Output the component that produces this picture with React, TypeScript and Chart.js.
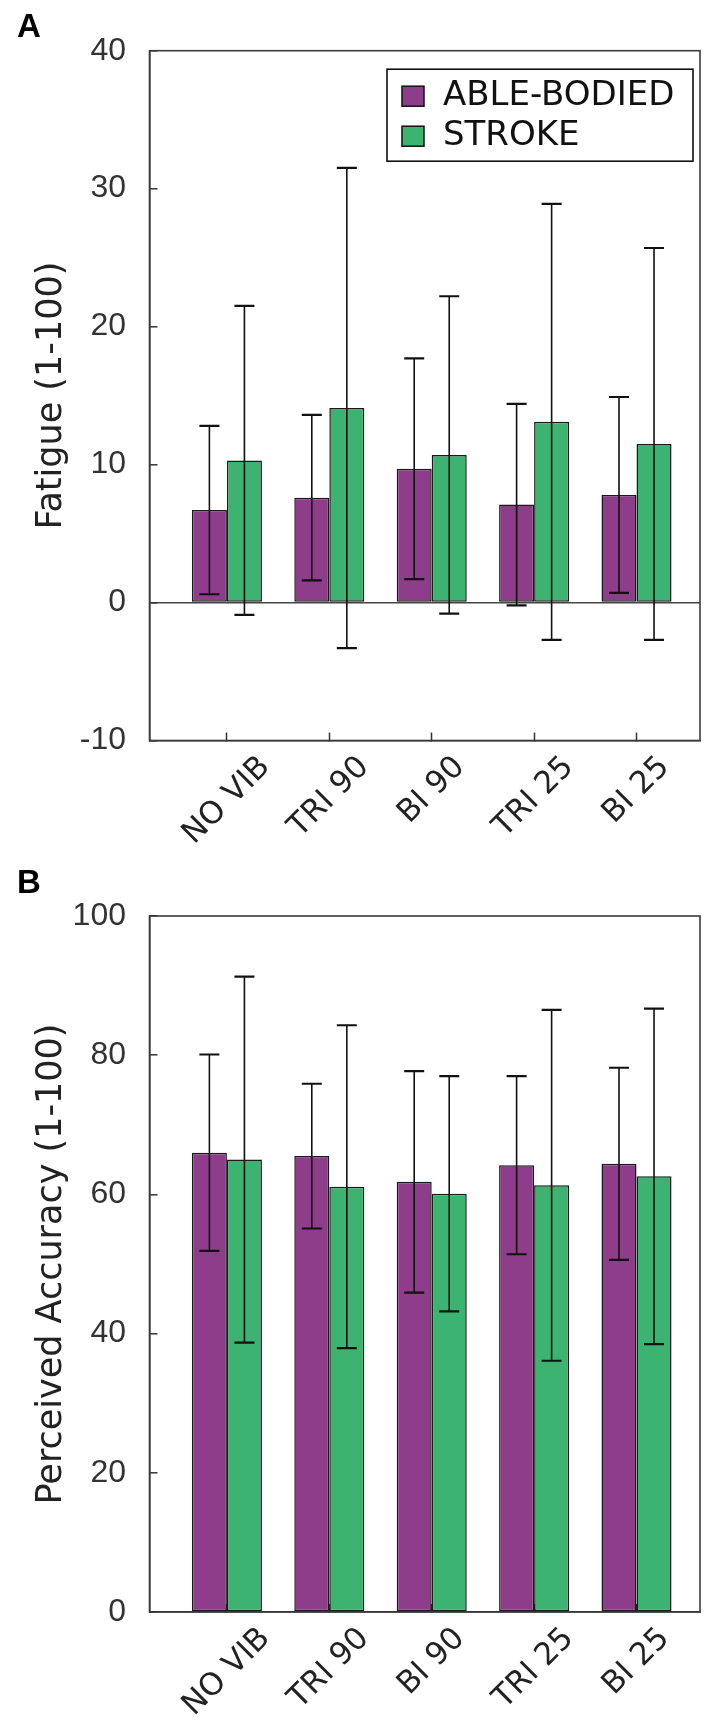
import React, { useEffect, useRef } from 'react';
import { Chart, registerables } from 'chart.js';

Chart.register(...registerables);

// ---------- data ----------
const categories = ['NO VIB', 'TRI 90', 'BI 90', 'TRI 25', 'BI 25'];
const seriesNames = ['ABLE-BODIED', 'STROKE'];
const seriesColors = ['#8E3D8B', '#3CB371'];

const fatigueAbleMean = [6.7, 7.6, 9.7, 7.1, 7.8];
const fatigueAbleSD = [6.1, 6.0, 8.0, 7.3, 7.1];
const fatigueStrokeMean = [10.3, 14.1, 10.7, 13.1, 11.5];
const fatigueStrokeSD = [11.2, 17.4, 11.5, 15.8, 14.2];
const fatigueTicks = [-10, 0, 10, 20, 30, 40];

const accuracyAbleMean = [66.0, 65.5, 61.8, 64.2, 64.4];
const accuracyAbleSD = [14.1, 10.4, 15.9, 12.8, 13.8];
const accuracyStrokeMean = [65.0, 61.1, 60.1, 61.3, 62.6];
const accuracyStrokeSD = [26.3, 23.2, 16.9, 25.2, 24.1];
const accuracyTicks = [0, 20, 40, 60, 80, 100];

const W = 709;
const PLOT_LEFT = 149.5;
const PLOT_RIGHT = 700;
const X_MIN = -0.756;
const X_MAX = 4.62;

type PanelProps = {
  top: number;
  height: number;
  plotTop: number;
  plotBottom: number;
  letter: string;
  letterBaseline: number;
  title: string;
  ticks: number[];
  means: number[][];
  sds: number[][];
  legend: boolean;
  zeroLine: boolean;
};

function Panel(props: PanelProps) {
  const ref = useRef<HTMLCanvasElement | null>(null);

  useEffect(() => {
    const canvas = ref.current;
    if (!canvas) return;
    const { height, plotTop, plotBottom, ticks, means, sds, legend, zeroLine, title, letter, letterBaseline } = props;

    const decor = {
      id: 'decor',
      afterDraw(chart: any) {
        const ctx = chart.ctx as CanvasRenderingContext2D;
        const area = chart.chartArea;
        const ys = chart.scales.y;
        const xs = chart.scales.x;
        ctx.save();

        // error bars
        ctx.strokeStyle = '#111';
        chart.data.datasets.forEach((_ds: any, s: number) => {
          const meta = chart.getDatasetMeta(s);
          meta.data.forEach((bar: any, i: number) => {
            const m = means[s][i];
            const sd = sds[s][i];
            const yT = ys.getPixelForValue(m + sd);
            const yB = ys.getPixelForValue(m - sd);
            ctx.lineWidth = 1.6;
            ctx.beginPath();
            ctx.moveTo(bar.x, yT);
            ctx.lineTo(bar.x, yB);
            ctx.stroke();
            ctx.lineWidth = 2.2;
            ctx.beginPath();
            ctx.moveTo(bar.x - 10, yT);
            ctx.lineTo(bar.x + 10, yT);
            ctx.moveTo(bar.x - 10, yB);
            ctx.lineTo(bar.x + 10, yB);
            ctx.stroke();
          });
        });

        // frame
        ctx.strokeStyle = '#3a3a3a';
        ctx.lineWidth = 1.6;
        ctx.strokeRect(area.left, area.top, area.right - area.left, area.bottom - area.top);

        // legend
        if (legend) {
          const bx = area.right - 313;
          const by = area.top + 18.5;
          ctx.fillStyle = '#fff';
          ctx.fillRect(bx, by, 306, 92);
          ctx.strokeStyle = '#111';
          ctx.lineWidth = 1.6;
          ctx.strokeRect(bx, by, 306, 92);
          ctx.font = '34px "DejaVu Sans"';
          ctx.textAlign = 'left';
          ctx.textBaseline = 'alphabetic';
          seriesNames.forEach((name, s) => {
            const sy = by + 17 + s * 40;
            ctx.fillStyle = seriesColors[s];
            ctx.fillRect(bx + 15, sy, 22, 20);
            ctx.strokeStyle = '#111';
            ctx.lineWidth = 1.5;
            ctx.strokeRect(bx + 15, sy, 22, 20);
            ctx.fillStyle = '#111';
            ctx.fillText(name, bx + 56, by + 36 + s * 40);
          });
        }

        // y title
        ctx.fillStyle = '#222';
        ctx.font = '35px "DejaVu Sans"';
        ctx.textAlign = 'center';
        ctx.textBaseline = 'alphabetic';
        ctx.save();
        ctx.translate(61, (area.top + area.bottom) / 2);
        ctx.rotate(-Math.PI / 2);
        ctx.fillText(title, 0, 0);
        ctx.restore();

        // x labels (rotated 45deg, centred on tick)
        ctx.font = '31px "DejaVu Sans"';
        ctx.fillStyle = '#222';
        ctx.textAlign = 'center';
        ctx.textBaseline = 'middle';
        categories.forEach((lab, i) => {
          const x = xs.getPixelForValue(i);
          const w = ctx.measureText(lab).width;
          const h = 22;
          const cy = area.bottom + 14 + (w + h) * 0.3536;
          ctx.save();
          ctx.translate(x, cy);
          ctx.rotate(-Math.PI / 4);
          ctx.fillText(lab, 0, 0);
          ctx.restore();
        });

        // panel letter
        ctx.font = 'bold 33px "Liberation Sans"';
        ctx.fillStyle = '#000';
        ctx.textAlign = 'left';
        ctx.textBaseline = 'alphabetic';
        ctx.fillText(letter, 17, letterBaseline);

        ctx.restore();
      },
    };

    const chart = new Chart(canvas, {
      type: 'bar',
      data: {
        datasets: seriesNames.map((name, s) => ({
          label: name,
          data: means[s].map((v, i) => ({ x: i, y: v })),
          backgroundColor: seriesColors[s],
          borderColor: '#1a1a1a',
          borderWidth: 1.5,
          borderSkipped: false,
          categoryPercentage: 0.684,
          barPercentage: 1.0,
        })),
      },
      options: {
        responsive: false,
        animation: false,
        events: [],
        layout: { padding: { top: plotTop, right: W - PLOT_RIGHT, left: 0, bottom: 0 } },
        plugins: {
          legend: { display: false },
          tooltip: { enabled: false },
          title: { display: false },
        },
        scales: {
          x: {
            type: 'linear',
            min: X_MIN,
            max: X_MAX,
            offset: false,
            afterBuildTicks: (axis: any) => {
              axis.ticks = categories.map((_c, i) => ({ value: i }));
            },
            afterFit: (s: any) => {
              s.height = height - plotBottom;
            },
            ticks: { display: false },
            grid: {
              drawOnChartArea: false,
              offset: false,
              tickLength: -8,
              tickColor: '#333',
              tickWidth: 1.5,
              color: '#333',
            },
            border: { display: true, color: '#3a3a3a', width: 1.6 },
          },
          y: {
            type: 'linear',
            min: ticks[0],
            max: ticks[ticks.length - 1],
            afterBuildTicks: (axis: any) => {
              axis.ticks = ticks.map((v) => ({ value: v }));
            },
            afterFit: (s: any) => {
              s.width = PLOT_LEFT;
            },
            ticks: {
              font: { family: '"Liberation Sans", Arial, sans-serif', size: 32 },
              color: '#333',
              padding: 31.5,
            },
            grid: {
              drawOnChartArea: true,
              color: (c: any) =>
                zeroLine && c.tick && c.tick.value === 0 ? '#444' : 'rgba(0,0,0,0)',
              lineWidth: 1.6,
              tickColor: '#333',
              tickLength: -8,
              tickWidth: 1.5,
            },
            border: { display: true, color: '#3a3a3a', width: 1.6 },
          },
        },
      } as any,
      plugins: [decor],
    });

    return () => chart.destroy();
  }, []);

  return (
    <canvas
      ref={ref}
      width={W}
      height={props.height}
      style={{ position: 'absolute', left: 0, top: props.top, display: 'block', width: W, height: props.height }}
    />
  );
}

export default function App() {
  useEffect(() => {
    document.body.style.margin = '0';
  }, []);
  return (
    <div style={{ position: 'relative', width: W, height: 1733, overflow: 'hidden', background: '#fff' }}>
      <Panel
        top={0}
        height={860}
        plotTop={44.5}
        plotBottom={740.5}
        letter="A"
        letterBaseline={37}
        title="Fatigue (1-100)"
        ticks={fatigueTicks}
        means={[fatigueAbleMean, fatigueStrokeMean]}
        sds={[fatigueAbleSD, fatigueStrokeSD]}
        legend={true}
        zeroLine={true}
      />
      <Panel
        top={860}
        height={873}
        plotTop={56}
        plotBottom={752}
        letter="B"
        letterBaseline={33}
        title="Perceived Accuracy (1-100)"
        ticks={accuracyTicks}
        means={[accuracyAbleMean, accuracyStrokeMean]}
        sds={[accuracyAbleSD, accuracyStrokeSD]}
        legend={false}
        zeroLine={false}
      />
    </div>
  );
}
